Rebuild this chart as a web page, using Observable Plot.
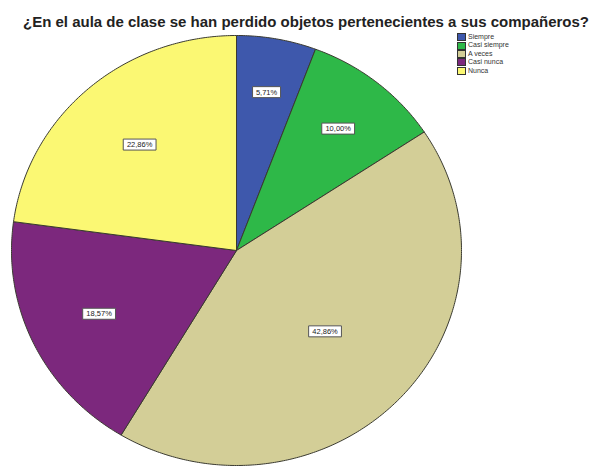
<!DOCTYPE html>
<html>
<head>
<meta charset="utf-8">
<script src="https://cdn.jsdelivr.net/npm/d3@7"></script>
<script src="https://cdn.jsdelivr.net/npm/@observablehq/plot@0.6"></script>
<style>
  body { margin: 0; background: #fff; font-family: "Liberation Sans", Arial, sans-serif; }
  #wrap { position: relative; width: 594px; height: 470px; overflow: hidden; }
  #title { height: 20px; padding-top: 12px; line-height: 20px; text-align: center; font-weight: bold; font-size: 15px; color: #222; padding-left: 18px; white-space: nowrap; }
  #legend { position: absolute; left: 457px; top: 33px; font-size: 7px; color: #333; line-height: 8.4px; }
  #legend .item { display: flex; align-items: center; height: 8.4px; }
  #legend .sw { width: 7px; height: 6px; border: 1px solid #333; margin-right: 2px; box-sizing: content-box; }
</style>
</head>
<body>
<div id="wrap">
  <div id="title">¿En el aula de clase se han perdido objetos pertenecientes a sus compañeros?</div>
  <div id="chart"></div>
  <div id="legend"></div>
</div>
<script>
const categories = ["Siempre", "Casi siempre", "A veces", "Casi nunca", "Nunca"];
const percents = [5.71, 10.00, 42.86, 18.57, 22.86];
const colors = ["#3E58AC", "#2EB848", "#D3CE97", "#7C287D", "#FBF873"];

// pie geometry (angles clockwise from 12 o'clock)
const arcs = d3.pie().sort(null).value(d => d)(percents);
const pts = [];
arcs.forEach((a, i) => {
  const cat = categories[i];
  pts.push({cat, x: 0, y: 0});
  const n = Math.max(2, Math.ceil((a.endAngle - a.startAngle) / 0.01));
  for (let k = 0; k <= n; k++) {
    const t = a.startAngle + (a.endAngle - a.startAngle) * k / n;
    pts.push({cat, x: Math.sin(t), y: Math.cos(t)});
  }
  pts.push({cat, x: 0, y: 0});
});

const fmt = v => v.toFixed(2).replace(".", ",") + "%";
const labels = arcs.map((a, i) => {
  const mid = (a.startAngle + a.endAngle) / 2;
  const frac = percents[i] / 100;
  const r = 0.78 - 0.55 * frac;
  return {cat: categories[i], text: fmt(percents[i]), x: r * Math.sin(mid), y: r * Math.cos(mid)};
});

const boxSymbol = (w, h) => ({draw(ctx) { ctx.rect(-w / 2, -h / 2, w, h); }});

const plot = Plot.plot({
  width: 594,
  height: 438,
  margin: 0,
  style: {background: "white", fontFamily: "Liberation Sans, Arial, sans-serif"},
  x: {domain: [-1, 1], range: [11, 461], axis: null},
  y: {domain: [-1, 1], range: [433, 3], axis: null},
  color: {domain: categories, range: colors},
  marks: [
    Plot.line(pts, {x: "x", y: "y", z: "cat", fill: "cat", stroke: "#3a3a30", strokeWidth: 1, curve: "linear"}),
    ...labels.map(l => Plot.dot([l], {x: "x", y: "y", r: 1, symbol: boxSymbol(l.text.length * 4.8 + 4, 11), fill: "white", stroke: "#555", strokeWidth: 1})),
    Plot.text(labels, {x: "x", y: "y", text: "text", fontSize: 7.5, fill: "#222"})
  ]
});
document.getElementById("chart").appendChild(plot);

const leg = document.getElementById("legend");
categories.forEach((c, i) => {
  const it = document.createElement("div");
  it.className = "item";
  const sw = document.createElement("span");
  sw.className = "sw";
  sw.style.background = colors[i];
  const tx = document.createElement("span");
  tx.textContent = c;
  it.appendChild(sw);
  it.appendChild(tx);
  leg.appendChild(it);
});
</script>
</body>
</html>
